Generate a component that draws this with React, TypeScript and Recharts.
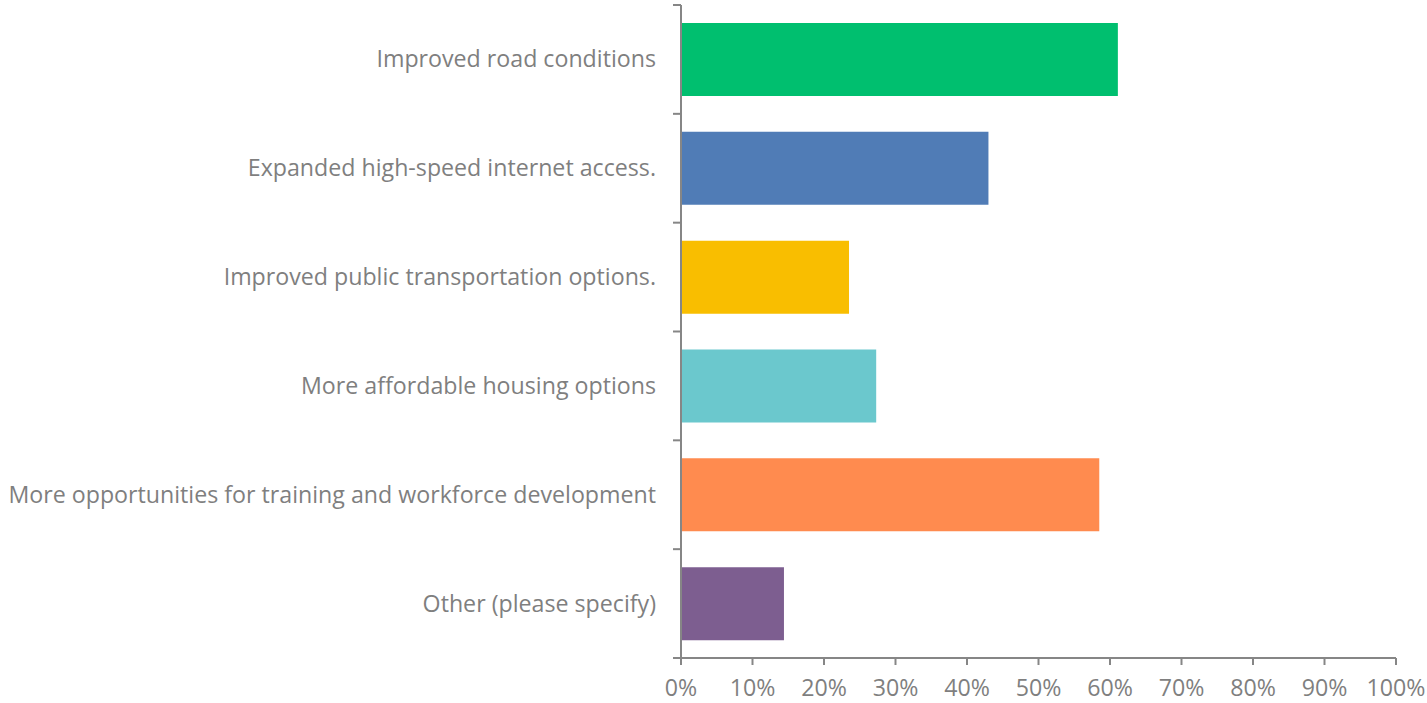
import React from "react";
import { BarChart, Bar, XAxis, YAxis, Cell } from "recharts";

const categories = [
  "Improved road conditions",
  "Expanded high-speed internet access.",
  "Improved public transportation options.",
  "More affordable housing options",
  "More opportunities for training and workforce development",
  "Other (please specify)",
];

const values = [61.1, 43.0, 23.5, 27.3, 58.5, 14.4];

const xTicks = [0, 10, 20, 30, 40, 50, 60, 70, 80, 90, 100];

const COLORS = ["#00BF6F", "#507CB6", "#F9BE00", "#6BC8CD", "#FF8B4F", "#7D5E90"];

const data = categories.map((name, i) => ({ name, value: values[i] }));

const W = 1427;
const H = 703;
const AXIS_X = 681;
const TOP = 5;
const BOTTOM_H = 45;
const BAND = (H - TOP - BOTTOM_H) / categories.length;
const FONT = "'Open Sans', sans-serif";
const FONT_SIZE = 23.2;
const GRAY = "#7f7f7f";
const AXIS_COLOR = "#868686";

function CategoryTick(props: any) {
  const { y, payload, index } = props;
  const top = y - BAND / 2;
  return (
    <g>
      <line x1={AXIS_X - 8} x2={AXIS_X} y1={top} y2={top} stroke={AXIS_COLOR} strokeWidth={2} />
      {index === categories.length - 1 && (
        <line x1={AXIS_X - 8} x2={AXIS_X} y1={y + BAND / 2} y2={y + BAND / 2} stroke={AXIS_COLOR} strokeWidth={2} />
      )}
      <text x={656} y={y - 1} textAnchor="end" dominantBaseline="central" fill={GRAY} fontSize={FONT_SIZE} fontFamily={FONT}>
        {payload.value}
      </text>
    </g>
  );
}

export default function App() {
  return (
    <div style={{ position: "absolute", left: 0, top: 0, width: W, height: H, background: "#fff" }}>
      <BarChart
        width={W}
        height={H}
        data={data}
        layout="vertical"
        margin={{ top: TOP, right: 31, bottom: 0, left: 0 }}
        barSize={73}
      >
        <XAxis
          type="number"
          domain={[0, 100]}
          ticks={xTicks}
          interval={0}
          height={BOTTOM_H}
          tickFormatter={(v: number) => `${v}%`}
          stroke={AXIS_COLOR}
          strokeWidth={2}
          tickSize={7}
          tickMargin={15}
          tick={{ fill: GRAY, fontSize: FONT_SIZE, fontFamily: FONT }}
        />
        <YAxis
          type="category"
          dataKey="name"
          width={AXIS_X}
          stroke={AXIS_COLOR}
          strokeWidth={2}
          tickLine={false}
          interval={0}
          tick={<CategoryTick />}
        />
        <Bar dataKey="value" isAnimationActive={false}>
          {data.map((entry, index) => (
            <Cell key={`cell-${index}`} fill={COLORS[index % COLORS.length]} />
          ))}
        </Bar>
      </BarChart>
    </div>
  );
}
